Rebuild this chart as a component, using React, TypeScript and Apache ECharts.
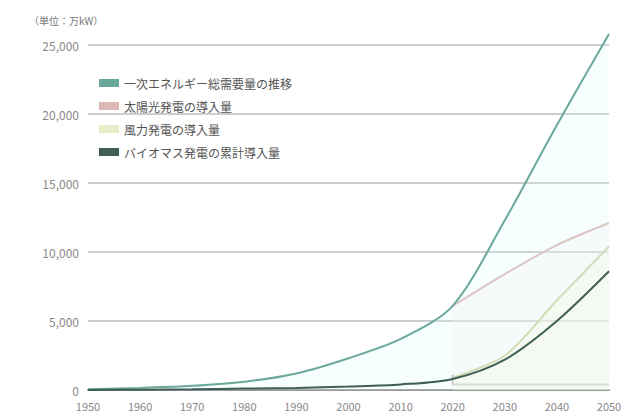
import React, { useEffect, useRef } from "react";
import * as echarts from "echarts";

const unitLabel = "（単位：万kW）";
const years = [1950, 1960, 1970, 1980, 1990, 2000, 2010, 2020, 2030, 2040, 2050];
const projYears = [2020, 2030, 2040, 2050];
const seriesNames = [
  "一次エネルギー総需要量の推移",
  "太陽光発電の導入量",
  "風力発電の導入量",
  "バイオマス発電の累計導入量",
];
const totalValues = [50, 150, 300, 600, 1200, 2300, 3700, 6100, 12300, 19200, 25800];
const solarValues = [6100, 8400, 10500, 12100];
const windValues = [900, 2500, 6500, 10400];
const biomassValues = [0, 20, 50, 100, 150, 250, 400, 800, 2200, 5000, 8600];
const bracketX = [2020, 2020, 2050];
const bracketY = [1100, 400, 400];

export default function App() {
  const ref = useRef<HTMLDivElement>(null);
  useEffect(() => {
    if (!ref.current) return;
    const chart = echarts.init(ref.current, undefined, { renderer: "svg" });
    const font = "'Noto Sans CJK JP', 'Noto Sans', sans-serif";
    chart.setOption({
      animation: false,
      textStyle: { fontFamily: font },
      title: {
        text: unitLabel,
        left: 16,
        top: 2,
        textStyle: { fontSize: 10, color: "#777", fontWeight: "normal", fontFamily: font },
      },
      legend: {
        orient: "vertical",
        left: 86,
        top: 64,
        itemGap: 11,
        itemWidth: 20,
        itemHeight: 8,
        textStyle: { fontSize: 12, color: "#555", fontFamily: font },
        data: seriesNames.map((n) => ({ name: n, icon: "rect" })),
      },
      grid: { left: 80, right: 23, top: 37, bottom: 28 },
      xAxis: {
        type: "value",
        min: 1950,
        max: 2050,
        interval: 10,
        axisLine: { lineStyle: { color: "#999", width: 2 } },
        axisTick: { show: false },
        splitLine: { show: false },
        axisLabel: {
          color: "#888",
          fontSize: 11,
          margin: 10,
          fontFamily: font,
          formatter: (v: number) => String(v),
        },
      },
      yAxis: {
        type: "value",
        min: 0,
        max: 25000,
        interval: 5000,
        axisLine: { show: false },
        axisTick: { show: false },
        splitLine: { lineStyle: { color: "#ccc", width: 2 } },
        axisLabel: {
          color: "#888",
          fontSize: 12,
          margin: 9,
          fontFamily: font,
          formatter: (v: number) => v.toLocaleString("en-US"),
        },
      },
      series: [
        {
          name: seriesNames[0],
          type: "line",
          smooth: 0.3,
          clip: false,
          symbol: "none",
          lineStyle: { color: "#6aa89c", width: 2 },
          itemStyle: { color: "#6aa89c" },
          areaStyle: { color: "rgba(215,248,248,0.3)" },
          data: years.map((y, i) => [y, totalValues[i]]),
          z: 4,
        },
        {
          name: seriesNames[1],
          type: "line",
          smooth: 0.3,
          symbol: "none",
          lineStyle: { color: "#dcb8b4", width: 2 },
          itemStyle: { color: "#dcb8b4" },
          areaStyle: { color: "rgba(253,238,238,0.4)" },
          data: projYears.map((y, i) => [y, solarValues[i]]),
          z: 3,
        },
        {
          name: seriesNames[2],
          type: "line",
          smooth: 0.3,
          symbol: "none",
          lineStyle: { color: "#cfd6a4", width: 2 },
          itemStyle: { color: "#e9ecc8" },
          areaStyle: { color: "rgba(250,251,225,0.55)" },
          data: projYears.map((y, i) => [y, windValues[i]]),
          z: 3,
        },
        {
          name: seriesNames[3],
          type: "line",
          smooth: 0.3,
          symbol: "none",
          lineStyle: { color: "#3f5e55", width: 2 },
          itemStyle: { color: "#3f5e55" },
          data: years.map((y, i) => [y, biomassValues[i]]),
          z: 5,
        },
        {
          name: "bracket",
          type: "line",
          symbol: "none",
          silent: true,
          lineStyle: { color: "#aaa", width: 2 },
          data: bracketX.map((x, i) => [x, bracketY[i]]),
          z: 2,
        },
      ],
    });
    return () => chart.dispose();
  }, []);
  return <div ref={ref} style={{ width: 624, height: 410 }} />;
}
